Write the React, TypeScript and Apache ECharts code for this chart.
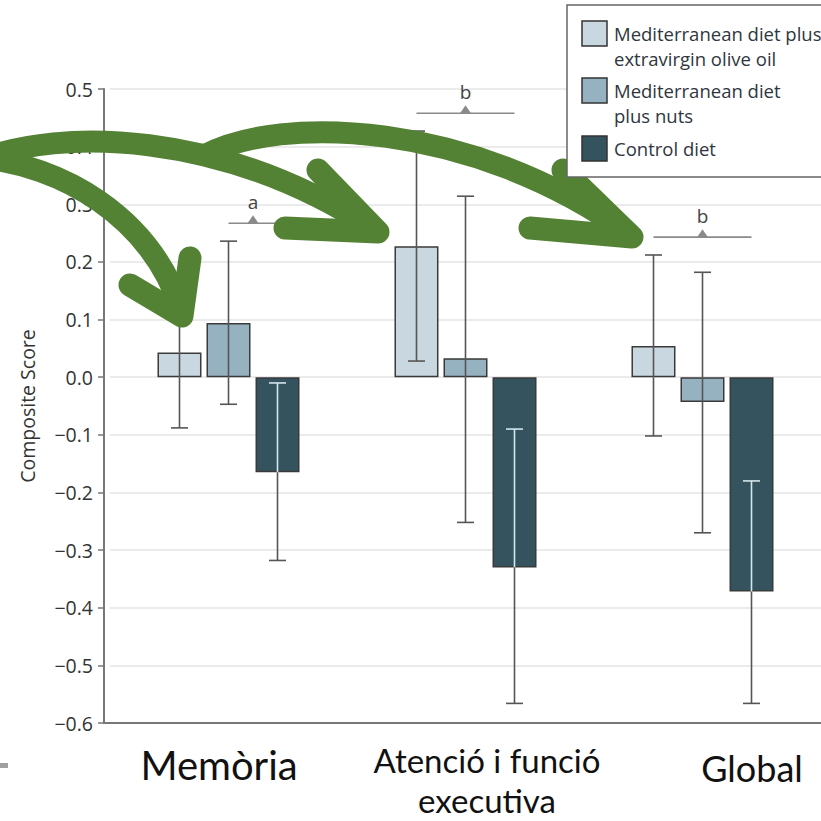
import React, { useEffect, useRef } from "react";
import * as echarts from "echarts";

const categories = ["Memòria", "Atenció i funció\nexecutiva", "Global"];
const seriesNames = [
  "Mediterranean diet plus extravirgin olive oil",
  "Mediterranean diet plus nuts",
  "Control diet",
];
const legendLabels = [
  "Mediterranean diet plus\nextravirgin olive oil",
  "Mediterranean diet\nplus nuts",
  "Control diet",
];
const oliveOil = [0.043, 0.227, 0.054];
const nuts = [0.094, 0.033, -0.043];
const control = [-0.165, -0.33, -0.372];
const oliveOilLow = [-0.088, 0.028, -0.102];
const oliveOilHigh = [0.177, 0.427, 0.212];
const nutsLow = [-0.047, -0.252, -0.27];
const nutsHigh = [0.236, 0.314, 0.182];
const controlLow = [-0.318, -0.566, -0.566];
const controlHigh = [-0.01, -0.09, -0.18];
const sigLabels = ["a", "b", "b"];
const sigLevels = [0.267, 0.458, 0.243];
const sigFrom = [1, 0, 0];
const sigTo = [2, 2, 2];
const yMin = -0.6;
const yMax = 0.5;
const yStep = 0.1;

const colors = ["#c9d8e0", "#96b2c0", "#34535f"];
const GREEN = "#548235";
const BAR_W = 44;
const BAR_STEP = 49;
const FONT = "Open Sans";
const CAT_FONT = "Lato";

function errSeries(idx: number, lows: number[], highs: number[], vals: number[], innerLight: boolean) {
  return {
    type: "custom",
    name: seriesNames[idx] + " CI",
    z: 5,
    silent: true,
    encode: { x: 0, y: [1, 2] },
    data: categories.map((_, i) => [i, lows[i], highs[i], vals[i]]),
    renderItem: (params: any, api: any) => {
      const cat = api.value(0);
      const cx = api.coord([cat, 0])[0] + (idx - 1) * BAR_STEP;
      const y0 = api.coord([cat, 0])[1];
      const yLow = api.coord([cat, api.value(1)])[1];
      const yHigh = api.coord([cat, api.value(2)])[1];
      const yBar = api.coord([cat, api.value(3)])[1];
      const bTop = Math.min(y0, yBar);
      const bBot = Math.max(y0, yBar);
      const dark = "#555";
      const light = "#d3e6ec";
      const inside = (y: number) => innerLight && y > bTop && y < bBot;
      const children: any[] = [];
      const pts = [yHigh, yLow, bTop, bBot].filter((y) => y >= yHigh && y <= yLow);
      const ys = Array.from(new Set(pts)).sort((a, b) => a - b);
      for (let k = 0; k < ys.length - 1; k++) {
        const mid = (ys[k] + ys[k + 1]) / 2;
        children.push({
          type: "line",
          shape: { x1: cx, y1: ys[k], x2: cx, y2: ys[k + 1] },
          style: { stroke: inside(mid) ? light : dark, lineWidth: 1.6 },
        });
      }
      [yHigh, yLow].forEach((y) => {
        children.push({
          type: "line",
          shape: { x1: cx - 8.5, y1: y, x2: cx + 8.5, y2: y },
          style: { stroke: inside(y) ? light : dark, lineWidth: 1.6 },
        });
      });
      return { type: "group", children };
    },
  };
}

function barSeries(idx: number, vals: number[]) {
  return {
    type: "bar",
    name: seriesNames[idx],
    data: vals,
    barWidth: BAR_W,
    barGap: "11.4%",
    z: 3,
    itemStyle: { color: colors[idx], borderColor: "#3a3a3a", borderWidth: 1.5 },
  };
}

const sigSeries = {
  type: "custom",
  name: "significance",
  z: 6,
  silent: true,
  encode: { x: 0, y: 1 },
  data: categories.map((_, i) => [i, sigLevels[i], sigFrom[i], sigTo[i]]),
  renderItem: (params: any, api: any) => {
    const cat = api.value(0);
    const c = api.coord([cat, api.value(1)]);
    const x1 = c[0] + (api.value(2) - 1) * BAR_STEP;
    const x2 = c[0] + (api.value(3) - 1) * BAR_STEP;
    const y = c[1];
    const mx = (x1 + x2) / 2;
    return {
      type: "group",
      children: [
        { type: "line", shape: { x1, y1: y, x2, y2: y }, style: { stroke: "#8a8a8a", lineWidth: 1.6 } },
        {
          type: "polygon",
          shape: { points: [[mx - 5.5, y], [mx + 5.5, y], [mx, y - 8]] },
          style: { fill: "#8a8a8a" },
        },
        {
          type: "text",
          x: mx,
          y: y - 12,
          style: {
            text: sigLabels[params.dataIndex],
            fill: "#444",
            font: `19px '${FONT}'`,
            align: "center",
            verticalAlign: "bottom",
          },
        },
      ],
    };
  },
};

function legendGraphic() {
  const tops = [22, 79, 137];
  const els: any[] = [
    {
      type: "rect",
      shape: { x: 567, y: 5, width: 270, height: 172 },
      style: { fill: "#fff", stroke: "#666", lineWidth: 1.5 },
      z: 200,
    },
  ];
  legendLabels.forEach((t, i) => {
    els.push({
      type: "rect",
      shape: { x: 582, y: tops[i] - 1, width: 25, height: 25 },
      style: { fill: colors[i], stroke: "#333", lineWidth: 1.5 },
      z: 201,
    });
    els.push({
      type: "text",
      x: 614,
      y: tops[i] - 1,
      style: {
        text: t,
        fill: "#2f3640",
        font: `18.5px '${FONT}'`,
        lineHeight: 25,
        verticalAlign: "top",
      },
      z: 201,
    });
  });
  return els;
}

function arrowGraphic() {
  const st = { stroke: GREEN, lineWidth: 22, fill: "none", lineCap: "round" };
  const hs = { stroke: GREEN, lineWidth: 23, fill: "none", lineCap: "round", lineJoin: "round" };
  return [
    { type: "bezierCurve", shape: { x1: -20, y1: 160, cpx1: 60, cpy1: 128, cpx2: 220, cpy2: 130, x2: 372, y2: 228 }, style: st, z: 100 },
    { type: "polyline", shape: { points: [[318, 170], [378, 232], [285, 228]] }, style: hs, z: 100 },
    { type: "bezierCurve", shape: { x1: -20, y1: 158, cpx1: 60, cpy1: 165, cpx2: 150, cpy2: 215, x2: 181, y2: 310 }, style: st, z: 100 },
    { type: "polyline", shape: { points: [[130, 285], [182, 316], [190, 258]] }, style: hs, z: 100 },
    { type: "bezierCurve", shape: { x1: 205, y1: 155, cpx1: 280, cpy1: 115, cpx2: 470, cpy2: 120, x2: 628, y2: 233 }, style: st, z: 100 },
    { type: "polyline", shape: { points: [[563, 170], [632, 237], [530, 228]] }, style: hs, z: 100 },
  ];
}

function labelGraphic() {
  return [
    { type: "text", x: 219, y: 765, style: { text: categories[0], font: `40px '${CAT_FONT}'`, fill: "#111", align: "center", verticalAlign: "middle" } },
    { type: "text", x: 487, y: 780, style: { text: categories[1], font: `33px '${CAT_FONT}'`, fill: "#111", align: "center", verticalAlign: "middle", lineHeight: 40 } },
    { type: "text", x: 752, y: 768, style: { text: categories[2], font: `36px '${CAT_FONT}'`, fill: "#111", align: "center", verticalAlign: "middle" } },
    { type: "rect", shape: { x: 0, y: 763, width: 8, height: 5 }, style: { fill: "#a0a0a0" } },
    { type: "line", shape: { x1: 103, y1: 723, x2: 111, y2: 723 }, style: { stroke: "#777", lineWidth: 2 } },
  ];
}

export default function App() {
  const ref = useRef<HTMLDivElement>(null);
  useEffect(() => {
    const chart = echarts.init(ref.current!, undefined, { renderer: "svg" });
    chart.setOption({
      animation: false,
      backgroundColor: "#fff",
      grid: { left: 110, top: 89, width: 717, height: 634, containLabel: false },
      legend: { show: false },
      xAxis: {
        type: "category",
        data: categories,
        axisLine: { show: true, onZero: false, lineStyle: { color: "#777", width: 2 } },
        axisTick: { show: false },
        axisLabel: { show: false },
        splitLine: { show: false },
      },
      yAxis: {
        type: "value",
        min: yMin,
        max: yMax,
        interval: yStep,
        offset: 6,
        name: "Composite Score",
        nameLocation: "middle",
        nameGap: 67,
        nameTextStyle: { fontSize: 19.5, color: "#333", fontFamily: FONT },
        axisLine: { show: true, lineStyle: { color: "#777", width: 2 } },
        axisTick: { show: true, length: 6, lineStyle: { color: "#777", width: 1.5 } },
        axisLabel: {
          margin: 11,
          fontSize: 19.5,
          color: "#333",
          fontFamily: FONT,
          formatter: (v: number) => v.toFixed(1).replace("-", "\u2212"),
        },
        splitLine: { show: true, lineStyle: { color: "#e4e4e4", width: 1.5 } },
      },
      series: [
        barSeries(0, oliveOil),
        barSeries(1, nuts),
        barSeries(2, control),
        errSeries(0, oliveOilLow, oliveOilHigh, oliveOil, false),
        errSeries(1, nutsLow, nutsHigh, nuts, false),
        errSeries(2, controlLow, controlHigh, control, true),
        sigSeries,
      ],
      graphic: { elements: [...arrowGraphic(), ...legendGraphic(), ...labelGraphic()] },
    });
    return () => chart.dispose();
  }, []);
  return <div ref={ref} style={{ position: "absolute", left: 0, top: 0, width: 821, height: 821 }} />;
}
